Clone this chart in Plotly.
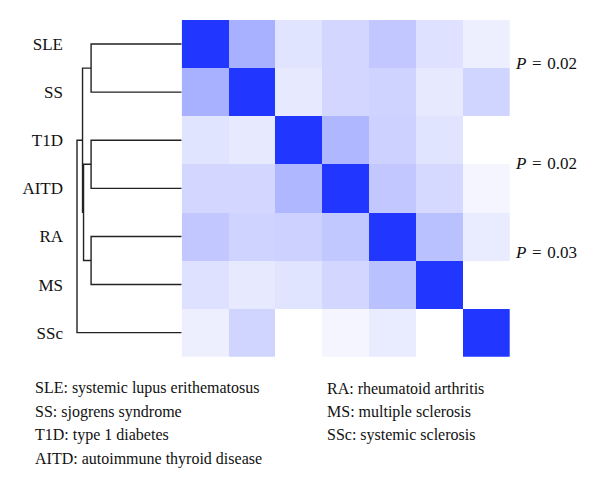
import plotly.graph_objects as go

# ---- data ----
diseases = ["SLE", "SS", "T1D", "AITD", "RA", "MS", "SSc"]
sim = [
    [1.00, 0.39, 0.135, 0.20, 0.275, 0.15, 0.08],
    [0.39, 1.00, 0.11, 0.20, 0.22, 0.11, 0.21],
    [0.135, 0.11, 1.00, 0.36, 0.23, 0.135, 0.00],
    [0.20, 0.20, 0.36, 1.00, 0.275, 0.19, 0.05],
    [0.275, 0.22, 0.23, 0.28, 1.00, 0.31, 0.10],
    [0.15, 0.11, 0.135, 0.20, 0.31, 1.00, 0.00],
    [0.08, 0.21, 0.00, 0.05, 0.10, 0.00, 1.00],
]
# linkage: [cluster a, cluster b, height]; leaves are 0..6, new clusters 7..
linkage = [
    [0, 1, 0.90],
    [2, 3, 0.90],
    [4, 5, 0.90],
    [8, 9, 0.975],
    [7, 10, 0.985],
    [11, 6, 1.04],
]
p_values = ["0.02", "0.02", "0.03"]
legend_left = [
    "SLE: systemic lupus erithematosus",
    "SS: sjogrens syndrome",
    "T1D: type 1 diabetes",
    "AITD: autoimmune thyroid disease",
]
legend_right = [
    "RA: rheumatoid arthritis",
    "MS: multiple sclerosis",
    "SSc: systemic sclerosis",
]

SERIF = "Liberation Serif, Times New Roman, serif"
OFF = 8  # page body margin
W, H = 600 - OFF, 488 - OFF
BLUE = "rgb(33,55,255)"
TXT = "#111111"

def px(v):
    return (v - OFF) / W

def py(v):
    return 1 - (v - OFF) / H

# ---- dendrogram polyline from linkage ----
pos = {i: float(i) for i in range(len(diseases))}
hgt = {i: 0.0 for i in range(len(diseases))}
dx, dy = [], []
for k, (a, b, h) in enumerate(linkage):
    dx += [hgt[a], h, h, hgt[b], None]
    dy += [pos[a], pos[a], pos[b], pos[b], None]
    nid = len(diseases) + k
    pos[nid] = (pos[a] + pos[b]) / 2
    hgt[nid] = h

fig = go.Figure()
fig.add_trace(go.Heatmap(
    z=sim, x=list(range(7)), y=list(range(7)),
    colorscale=[[0, "rgb(255,255,255)"], [1, BLUE]],
    zmin=0, zmax=1, showscale=False, hoverinfo="skip",
    xaxis="x", yaxis="y",
))
fig.add_trace(go.Scatter(
    x=dx, y=dy, mode="lines", xaxis="x2", yaxis="y",
    line=dict(color="#222222", width=1.4), hoverinfo="skip", showlegend=False,
))

x0, x1 = 181.7, 510.0
y0, y1 = 20.0, 356.7
dend_left = 70.0
hmax = 1.04 * (x0 - dend_left) / (x0 - 77.0)

fig.update_layout(
    width=W, height=H,
    margin=dict(l=0, r=0, t=0, b=0),
    paper_bgcolor="white", plot_bgcolor="white",
    showlegend=False,
    xaxis=dict(domain=[px(x0), px(x1)], range=[-0.5, 6.5], showticklabels=False,
               showgrid=False, zeroline=False, ticks="", anchor="y"),
    xaxis2=dict(domain=[px(dend_left), px(x0)], range=[hmax, 0], showticklabels=False,
                showgrid=False, zeroline=False, ticks="", anchor="y"),
    yaxis=dict(domain=[py(y1), py(y0)], range=[6.5, -0.5],
               tickvals=list(range(7)), ticktext=diseases,
               anchor="free", position=px(63), side="left",
               showgrid=False, zeroline=False, ticks="", showline=False,
               tickfont=dict(family=SERIF, size=17, color=TXT)),
)

SP = "\u2004"
p_y = [63, 164, 253]
for yv, pv in zip(p_y, p_values):
    fig.add_annotation(x=px(513), y=py(yv), xref="paper", yref="paper",
                       xanchor="left", yanchor="middle", showarrow=False,
                       text=f"<i>P</i>{SP}={SP}{pv}",
                       font=dict(family=SERIF, size=17, color=TXT))

line_y = [388, 411.5, 435, 458.5]
for i, t in enumerate(legend_left):
    fig.add_annotation(x=px(33), y=py(line_y[i]), xref="paper", yref="paper",
                       xanchor="left", yanchor="middle", showarrow=False, text=t,
                       font=dict(family=SERIF, size=16, color=TXT))
for i, t in enumerate(legend_right):
    fig.add_annotation(x=px(325), y=py(line_y[i]), xref="paper", yref="paper",
                       xanchor="left", yanchor="middle", showarrow=False, text=t,
                       font=dict(family=SERIF, size=16, color=TXT))

fig.write_html("out.html")
